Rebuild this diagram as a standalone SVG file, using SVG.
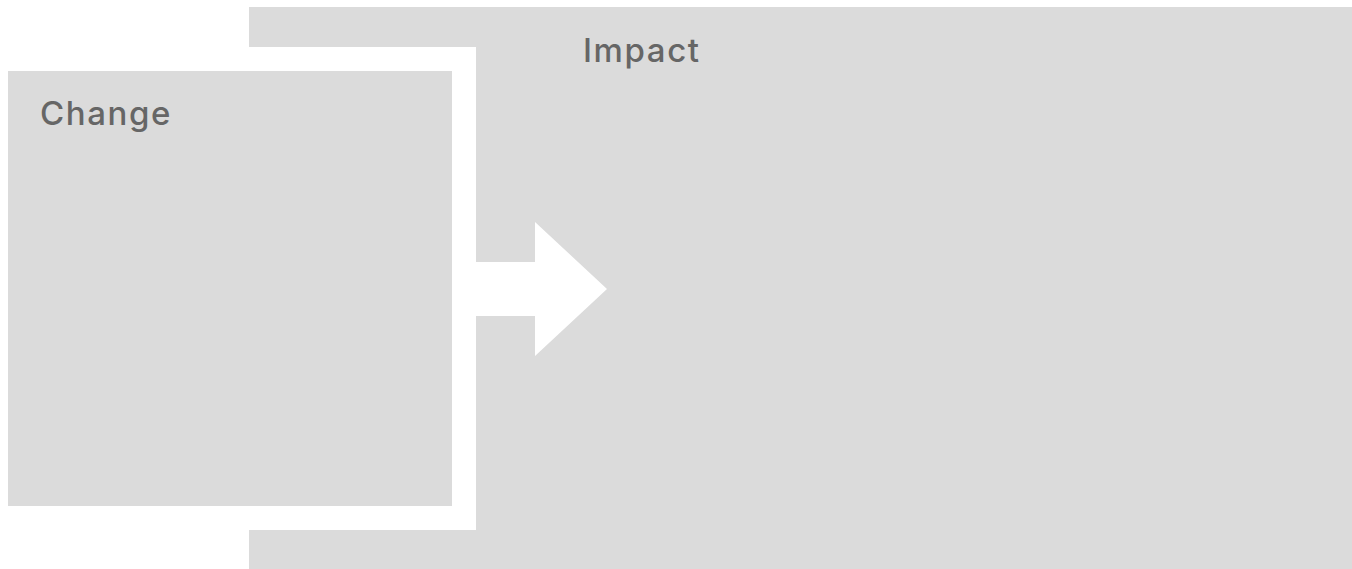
<svg xmlns="http://www.w3.org/2000/svg" width="1352" height="569" viewBox="0 0 1352 569">
<style>
.box{fill:#dbdbdb}
.gap{fill:#ffffff}
.lbl{font-family:Inter,"Liberation Sans",sans-serif;font-size:33px;font-weight:500;letter-spacing:1.6px;fill:#666666}
</style>
<rect width="1352" height="569" fill="#ffffff"/>
<g id="impact">
<rect class="box" x="249" y="7" width="1103" height="562"/>
<text class="lbl" x="583" y="62">Impact</text>
</g>
<g id="change">
<rect class="gap" x="249" y="47" width="227" height="483"/>
<rect class="box" x="8" y="71" width="444" height="435"/>
<text class="lbl" x="40" y="125">Change</text>
</g>
<g id="connectors">
<polygon class="gap" points="476,262 535,262 535,222 607,289 535,356 535,316 476,316"/>
</g>
</svg>
